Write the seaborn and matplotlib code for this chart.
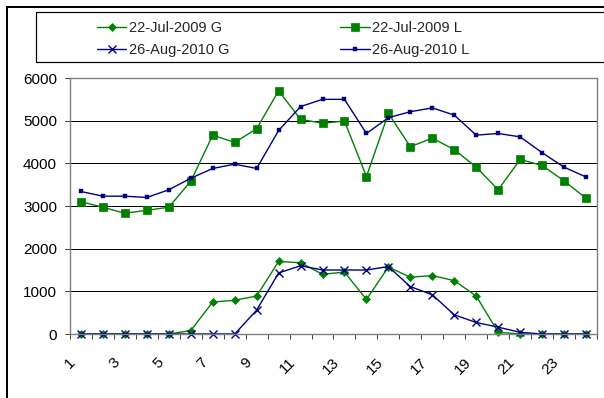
import numpy as np
import pandas as pd
import matplotlib
matplotlib.use("Agg")
import matplotlib.pyplot as plt
from matplotlib.patches import Rectangle
from matplotlib.transforms import ScaledTranslation
from matplotlib.lines import Line2D
import seaborn as sns

# Hourly values for two survey days
hours = list(range(1, 25))
g_2009 = [0, 0, 0, 0, 0, 80, 750, 790, 890, 1700, 1670, 1400,
          1450, 810, 1570, 1330, 1370, 1250, 890, 40, 0, 0, 0, 0]
l_2009 = [3100, 2970, 2830, 2900, 2970, 3580, 4660, 4490, 4810, 5700, 5030, 4940,
          4990, 3690, 5170, 4390, 4590, 4320, 3910, 3380, 4090, 3950, 3590, 3180]
g_2010 = [0, 0, 0, 0, 0, 0, 0, 0, 560, 1430, 1600, 1500,
          1500, 1500, 1580, 1110, 920, 450, 270, 160, 40, 0, 0, 0]
l_2010 = [3340, 3230, 3230, 3200, 3380, 3650, 3880, 3980, 3880, 4770, 5330, 5500,
          5500, 4700, 5070, 5210, 5300, 5130, 4660, 4700, 4620, 4250, 3910, 3680]
series_names = ["22-Jul-2009 G", "22-Jul-2009 L", "26-Aug-2010 G", "26-Aug-2010 L"]
y_ticks = [0, 1000, 2000, 3000, 4000, 5000, 6000]
x_labels = [str(h) for h in hours[::2]]

sns.set_theme(style="white")
plt.rcParams["font.family"] = ["Liberation Sans", "DejaVu Sans"]

W, H, DPI = 604, 398, 100
fig = plt.figure(figsize=(W / DPI, H / DPI), dpi=DPI)
PX = 72.0 / DPI  # points per pixel


def fig_box(x0, y0, x1, y1):
    """Pixel box (top-left origin) to figure fraction [l, b, w, h]."""
    return [x0 / W, 1 - y1 / H, (x1 - x0) / W, (y1 - y0) / H]


ax = fig.add_axes(fig_box(70, 78, 597, 334))

df = pd.DataFrame({"hour": hours, series_names[0]: g_2009, series_names[1]: l_2009,
                   series_names[2]: g_2010, series_names[3]: l_2010})

green, navy = "#008000", "#000080"
styles = {
    series_names[0]: dict(color=green, marker="D", markersize=4.0, markeredgewidth=0.5),
    series_names[1]: dict(color=green, marker="s", markersize=5.6, markeredgewidth=0.5),
    series_names[2]: dict(color=navy, marker="x", markersize=5.6, markeredgewidth=1.0),
    series_names[3]: dict(color=navy, marker="s", markersize=2.4, markeredgewidth=0.3),
}

for name in series_names:
    st = styles[name]
    sns.lineplot(data=df, x="hour", y=name, ax=ax, color=st["color"], linewidth=1.0,
                 marker=st["marker"], markersize=st["markersize"],
                 markeredgewidth=st["markeredgewidth"], markeredgecolor=st["color"],
                 markerfacecolor=st["color"], clip_on=False, label=name, legend=False)

ax.set_xlim(0.5, 24.5)
ax.set_ylim(0, 6000)
ax.set_xlabel("")
ax.set_ylabel("")

# horizontal gridlines
ax.set_yticks(y_ticks)
ax.set_yticklabels([str(v) for v in y_ticks])
ax.yaxis.grid(True, color="black", linewidth=1 * PX)
ax.xaxis.grid(False)
ax.set_axisbelow(True)

for side, sp in ax.spines.items():
    sp.set_visible(True)
    sp.set_color("#808080")
    sp.set_linewidth(1.4 * PX)

ax.tick_params(axis="y", which="major", direction="out", length=5 * PX, width=1 * PX,
               color="#404040", pad=8 * PX, labelsize=11, labelcolor="black", left=True)

# tick marks between categories, labels on odd categories
ax.set_xticks(np.arange(0.5, 25.0, 1.0))
ax.set_xticklabels([])
ax.tick_params(axis="x", which="major", direction="out", length=5 * PX, width=1 * PX,
               color="#404040", bottom=True)
ax.set_xticks(hours[::2], minor=True)
ax.set_xticklabels(x_labels, minor=True)
ax.tick_params(axis="x", which="minor", length=0, pad=26 * PX, labelsize=11,
               labelcolor="black", bottom=True)
shift = ScaledTranslation(-7.5 / DPI, 0, fig.dpi_scale_trans)
for lab in ax.get_xticklabels(minor=True):
    lab.set_rotation(45)
    lab.set_rotation_mode("anchor")
    lab.set_ha("right")
    lab.set_va("center")
    lab.set_transform(lab.get_transform() + shift)

# legend with its own frame
handles = [Line2D([], [], color=styles[n]["color"], linewidth=1.0, marker=styles[n]["marker"],
                  markersize=styles[n]["markersize"], markeredgewidth=styles[n]["markeredgewidth"],
                  markerfacecolor=styles[n]["color"], markeredgecolor=styles[n]["color"])
           for n in series_names]
order = [0, 2, 1, 3]
leg = fig.legend([handles[i] for i in order], [series_names[i] for i in order],
                 ncol=2, frameon=False, loc="upper left",
                 bbox_to_anchor=(97 / W, 1 - 21 / H), bbox_transform=fig.transFigure,
                 borderpad=0, borderaxespad=0, handlelength=2.0, handletextpad=0.2,
                 columnspacing=7.6, labelspacing=0.55, fontsize=10.5)

fig.patches.append(Rectangle((36 / W, 1 - 62 / H), (640 - 36) / W, 50 / H,
                             transform=fig.transFigure, fill=False,
                             edgecolor="black", linewidth=1.2 * PX))
fig.patches.append(Rectangle((6.5 / W, -0.2), (700) / W, 1.2 - 7 / H,
                             transform=fig.transFigure, fill=False,
                             edgecolor="black", linewidth=2 * PX))

fig.savefig("out.png", dpi=DPI)
